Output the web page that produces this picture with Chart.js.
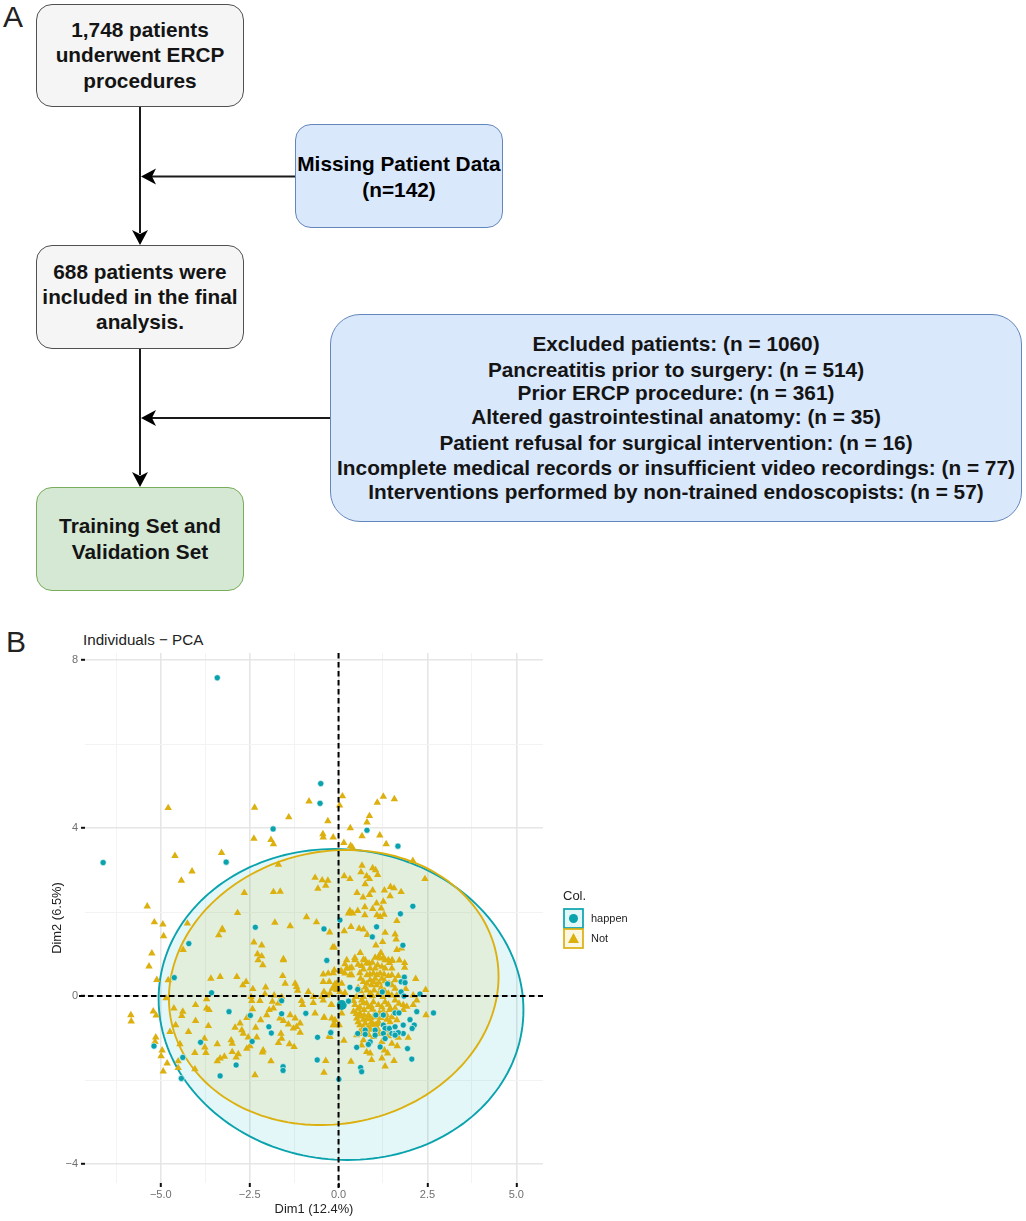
<!DOCTYPE html>
<html>
<head>
<meta charset="utf-8">
<title>ERCP flowchart and PCA</title>
<script src="https://cdn.jsdelivr.net/npm/chart.js@4"></script>
<style>
  html, body { margin:0; padding:0; background:#fff; }
  body { position:relative; width:1026px; height:1221px; overflow:hidden; font-family:"Liberation Sans", Arial, sans-serif; }
  .box { position:absolute; box-sizing:border-box; border-style:solid; border-width:1.7px; font-size:20.8px; }
  .grey { background:#f5f5f5; border-color:#505050; border-radius:16px; }
  .blue { background:#dae8fc; border-color:#6487bb; border-radius:16px; }
  .green { background:#d5e8d4; border-color:#78ad5b; border-radius:16px; }
  .ln { position:absolute; left:0; right:0; text-align:center; font-weight:bold; white-space:nowrap; color:#141414; transform:translateY(-50%); }
  .panel { position:absolute; font-size:30px; color:#222; line-height:1; }
  #flow { position:absolute; left:0; top:0; }
  #wrap { position:absolute; left:0; top:625px; width:640px; height:596px; }
  #plotTitle { position:absolute; left:83px; top:632px; font-size:15.2px; line-height:16px; color:#222; }
</style>
</head>
<body>
<div class="panel" style="left:3px;top:2px">A</div>
<div class="panel" style="left:6px;top:627px">B</div>

<svg id="flow" width="1026" height="620">
  <g stroke="#1a1a1a" stroke-width="2" fill="none">
    <path d="M140 107V233M295 176.5H152M140 349V475M330 418H152"/>
  </g>
  <g fill="#000" stroke="none">
    <path d="M140 245l-8 -15 8 4 8 -4z"/>
    <path d="M140 487l-8 -15 8 4 8 -4z"/>
    <path d="M141 176.5l15 -8 -4 8 4 8z"/>
    <path d="M141 418l15 -8 -4 8 4 8z"/>
  </g>
</svg>

<div class="box grey" style="left:36px;top:4px;width:208px;height:103px">
  <div class="ln" style="top:25px">1,748 patients</div>
  <div class="ln" style="top:50px">underwent ERCP</div>
  <div class="ln" style="top:76px">procedures</div>
</div>
<div class="box blue" style="left:295px;top:124px;width:208px;height:104px">
  <div class="ln" style="top:39px;color:#000">Missing Patient Data</div>
  <div class="ln" style="top:65px;color:#000">(n=142)</div>
</div>
<div class="box grey" style="left:36px;top:245px;width:208px;height:104px">
  <div class="ln" style="top:26px">688 patients were</div>
  <div class="ln" style="top:51px">included in the final</div>
  <div class="ln" style="top:76px">analysis.</div>
</div>
<div class="box green" style="left:36px;top:487px;width:208px;height:104px">
  <div class="ln" style="top:38px">Training Set and</div>
  <div class="ln" style="top:64px">Validation Set</div>
</div>
<div class="box blue" style="left:330px;top:314px;width:692px;height:208px;border-radius:30px">
  <div class="ln" style="top:29px">Excluded patients: (n = 1060)</div>
  <div class="ln" style="top:55px">Pancreatitis prior to surgery: (n = 514)</div>
  <div class="ln" style="top:78px">Prior ERCP procedure: (n = 361)</div>
  <div class="ln" style="top:102px">Altered gastrointestinal anatomy: (n = 35)</div>
  <div class="ln" style="top:128px">Patient refusal for surgical intervention: (n = 16)</div>
  <div class="ln" style="top:153px">Incomplete medical records or insufficient video recordings: (n = 77)</div>
  <div class="ln" style="top:177px">Interventions performed by non-trained endoscopists: (n = 57)</div>
</div>

<div id="plotTitle">Individuals − PCA</div>
<div id="wrap"><canvas id="pca" width="640" height="596"></canvas></div>

<script>
'use strict';

// ── Data ──────────────────────────────────────────────────────────────────────
var xTickValues = [-5, -2.5, 0, 2.5, 5];
var xTickLabels = ['−5.0', '−2.5', '0.0', '2.5', '5.0'];
var xMinorTicks = [-6.25, -3.75, -1.25, 1.25, 3.75];
var yTickValues = [-4, 0, 4, 8];
var yTickLabels = ['−4', '0', '4', '8'];
var yMinorTicks = [-2, 2, 6];
var legendNames = ['happen', 'Not'];

var happenMean = [[0.09, -0.21]];
var notMean = [[-0.10, 0.22]];

// center x, center y, half width, y shift at the widest point, half height
var happenEllipse = [0.07, -0.20, 5.13, -0.13, 3.70];
var notEllipse = [-0.135, 0.205, 4.635, 0.26, 3.265];

var happenPoints = [
  [-3.41,7.58],[-0.50,5.06],[-0.52,4.59],[-1.84,3.98],[-6.62,3.18],[-3.16,3.19],[-2.34,1.64],[-0.41,1.60],
  [0.80,3.95],[1.67,3.57],[2.09,2.14],[1.74,1.96],[0.04,1.81],[1.07,1.65],[0.95,1.41],[1.81,1.21],[-0.33,0.85],
  [1.85,0.45],[1.76,0.34],[1.87,0.32],[1.38,0.29],[0.32,0.21],[0.54,0.16],[1.23,0.10],[1.76,0.10],[2.29,0.05],[1.84,0],
  [0.28,-0.12],[2.67,-0.40],[2.20,-0.37],[2.01,-0.56],[2.13,-0.69],[2.07,-0.77],[1.82,-0.69],[1.59,-0.40],[1.70,-0.40],
  [1.05,-0.45],[1.26,-0.45],[1.26,-0.69],[1.03,-0.81],[0.75,-0.81],[0.75,-0.91],[0.54,-0.89],[1.31,-0.77],[1.43,-0.77],
  [1.59,-0.73],[1.82,-0.89],[1.50,-0.89],[1.59,-0.89],[1.68,-0.87],[1.26,-0.89],[1.31,-1.01],[1.59,-0.93],[1.03,-0.93],
  [0.89,-1.09],[0.84,-1.15],[1.17,-1.21],[0.51,-1.22],[1.94,-1.25],[2.06,-1.50],[0.62,-1.70],[0.65,-1.80],[0.01,-1.98],[-0.21,-0.86],
  [-4.21,1.25],[-4.62,0.44],[-3.57,0.08],[-1.60,-0.11],[-3.08,-0.37],[-2.48,-0.46],[-1.60,-0.42],[-0.92,-0.41],
  [-1.96,-0.73],[-1.89,-0.88],[-2.43,-1.08],[-3.88,-1.10],[-5.19,-1.19],[-4.38,-1.46],[-2.88,-1.64],[-1.56,-1.68],[-1.56,-1.77],
  [-0.60,-1.52],[-3.33,-1.90],[-4.42,-1.96],[-0.59,-0.98],[-0.22,-0.87]
];

var notPoints = [
  // upper left
  [-4.79,4.48],[-2.36,4.49],[-0.83,4.64],[-1.40,4.26],[-0.30,4.17],[-2.38,3.75],[-1.90,3.72],[-1.83,3.62],[-0.44,3.86],[-0.43,3.78],[-0.15,3.78],
  [-3.29,3.41],[-4.60,3.34],[-4.12,2.97],[-4.42,2.75],[-1.69,3.13],[-0.66,2.82],[-0.46,2.76],[-0.30,2.75],[-0.36,2.63],[-0.58,2.56],
  [-2.65,2.46],[-1.83,2.48],[-1.64,2.49],[-5.38,2.14],[-2.84,1.98],[-0.90,1.88],[-0.62,1.76],[-5.18,1.76],[-4.94,1.71],[-4.25,1.73],
  [-1.79,1.75],[-1.36,1.67],[-3.27,1.60],[-3.26,1.57],[-3.37,1.45],[-0.25,1.52],[-2.38,1.28],[-2.16,1.21],[-2.28,1.0],[-2.16,0.95],[-0.16,1.16],[-1.55,0.88],
  // upper right
  [0.11,4.76],[0.03,4.54],[1.09,4.61],[1.26,4.75],[1.57,4.69],[0.87,4.29],[0.80,4.14],[0.33,4.0],[0.66,3.81],[1.16,3.83],[0.15,3.65],[0.34,3.58],[0.39,3.54],
  [1.34,3.62],[2.09,3.22],[2.43,2.79],[0.66,3.11],[0.63,2.95],[0.96,3.05],[1.04,3.0],[1.10,2.89],[0.16,2.86],[0.32,2.79],[0.79,2.86],[0.87,2.79],[0.75,2.67],
  [1.29,2.52],[1.46,2.60],[1.56,2.57],[1.76,2.48],[0.52,2.46],[0.96,2.52],[0.87,2.41],[0.69,2.35],[1.45,2.38],[1.26,2.25],[1.07,2.21],[0.96,2.08],[0.74,2.12],
  [1.20,2.09],[0.32,2.03],[0.28,1.97],[0.40,1.97],[0.54,2.03],[0.74,1.93],[1.08,1.93],[1.17,1.89],[1.28,1.94],[1.64,1.79],[0.35,1.65],[0.16,1.55],[0.58,1.61],
  [0.70,1.59],[1.31,1.51],[1.59,1.47],[1.62,1.35],[0.81,1.46],[1.24,1.29],[1.05,1.21],[1.64,1.10],[1.77,1.14],[-0.12,1.16],[0.61,1.03],[1.19,1.03],[1.13,0.94],
  [1.71,0.85],[1.86,0.79],[1.86,0.68],[0.46,0.91],[0.23,0.86],[0.18,0.76],[0.75,0.86],[0.86,0.78],[1.31,0.86],[1.43,0.79],[1.51,0.86],[0.32,0.66],[2.17,0.41],
  [1.68,0.48],[2.45,0.15],[-0.15,0.55],[0.07,0.60],[0.18,0.54],[0.37,0.50],
  // dense cluster above the line
  [0.46,0.86],[0.70,0.87],[0.79,0.78],[1.03,0.92],[1.17,0.90],[1.26,0.92],[1.40,0.86],[1.50,0.84],[0.23,0.66],[0.37,0.68],[0.70,0.64],[0.89,0.66],[1.03,0.66],
  [1.31,0.66],[1.50,0.66],[0.98,0.54],[1.17,0.54],[-0.12,0.62],[0.09,0.58],[-0.29,0.54],[-0.43,0.52],[0.32,0.50],[-0.43,0.34],[-0.26,0.34],[0.70,0.34],[0.89,0.38],
  [1.03,0.42],[1.22,0.42],[1.50,0.50],[1.59,0.38],[0.09,0.30],[0.93,0.26],[1.07,0.26],[0.75,0.21],[1.50,0.26],[1.59,0.18],[1.89,0.17],[-0.41,0.10],[-0.33,0.02],
  [0.04,0.10],[0.18,0.08],[0.89,0.06],[1.12,0.05],[1.40,0.06],[1.64,0.02],[2.10,0.02],[-0.05,0.30],[-0.15,0.18],[-0.05,0.15],
  [0.55,0.75],[0.65,0.72],[0.95,0.80],[1.10,0.74],[1.22,0.70],[0.60,0.55],[0.80,0.50],[0.88,0.52],[1.08,0.50],[1.28,0.52],[1.40,0.48],[0.62,0.42],[0.80,0.30],
  [0.98,0.34],[1.14,0.32],[1.30,0.36],[1.42,0.30],[0.55,0.20],[0.62,0.12],[0.80,0.14],[1.00,0.14],[1.20,0.20],[1.30,0.12],[0.70,-0.02],[0.95,0.00],[1.25,-0.02],[1.50,0.02],[0.50,-0.02],
  // dense cluster below the line
  [0.42,-0.11],[0.65,-0.10],[0.98,-0.14],[1.12,-0.21],[1.31,-0.14],[1.59,-0.10],[1.82,-0.21],[2.20,-0.10],[2.10,-0.21],[0.60,-0.26],[0.84,-0.26],[1.45,-0.29],
  [0.46,-0.21],[0.79,-0.17],[1.92,-0.25],[1.82,-0.33],[1.59,-0.29],[1.45,-0.33],[0.42,-0.37],[0.60,-0.41],[0.84,-0.45],[1.03,-0.41],[1.26,-0.37],[0.51,-0.53],
  [0.70,-0.56],[0.93,-0.61],[1.12,-0.61],[1.36,-0.56],[1.64,-0.57],[2.46,-0.45],[-0.41,-0.51],[-0.21,-0.21],[-0.10,-0.57],[0.09,-0.41],[-0.10,-0.69],[0.60,-0.69],
  [0.84,-0.73],[1.03,-0.69],[1.36,-0.81],[1.96,-0.99],[1.68,-0.99],[-0.26,-0.95],[0.15,-1.06],[0.51,-0.93],[0.70,-1.05],[0.98,-0.97],[1.22,-1.09],[1.50,-1.13],
  [1.65,-1.19],[0.65,-1.17],[0.79,-1.33],[0.89,-1.36],[1.29,-1.29],[1.38,-1.36],[0.93,-1.52],[1.22,-1.48],[1.56,-1.54],[0.35,-1.56],[-0.36,-1.54],[1.31,-1.67],[-0.41,-1.82],
  [0.55,-0.30],[0.72,-0.33],[0.95,-0.32],[1.15,-0.40],[0.62,-0.48],[0.80,-0.55],[1.00,-0.50],[1.20,-0.52],[0.70,-0.75],[0.90,-0.80],[1.10,-0.78],[0.60,-0.85],
  [0.70,-0.16],[0.92,-0.24],[1.22,-0.26],[1.40,-0.20],[1.70,-0.18],[0.50,-0.42],[0.72,-0.46],[0.90,-0.52],[1.10,-0.48],[1.35,-0.45],[1.50,-0.50],[0.55,-0.62],
  [0.75,-0.65],[0.95,-0.68],[1.15,-0.66],[1.45,-0.62],[0.65,-0.90],[0.85,-0.92],[1.15,-0.90],[1.40,-0.95],
  // left half
  [-4.92,1.43],[-5.25,1.02],[-5.33,0.71],[-5.11,0.39],[-4.79,0.38],[-4.37,1.10],[-2.26,0.86],[-2.13,0.74],[-1.55,0.86],[-3.59,0.42],[-3.33,0.46],[-2.86,0.46],
  [-2.60,0.34],[-2.69,0.26],[-2.41,0.17],[-2.05,0.21],[-1.57,0.48],[-1.50,0.30],[-2.07,0.05],[-1.81,0.02],[-1.60,-0.02],[-1.15,0.13],[-0.85,0.10],[-1.22,0.30],[-1.18,0.22],
  [-0.71,-0.02],[-0.47,-0.02],[-0.24,0.06],[-4.85,-0.05],[-3.71,-0.07],[-2.46,-0.02],[-2.44,-0.11],[-2.21,-0.11],[-1.86,-0.13],[-1.04,-0.11],[-1.01,-0.21],[-0.71,-0.16],
  [-0.43,-0.10],[-0.19,-0.21],[-5.21,-0.36],[-5.13,-0.46],[-4.63,-0.29],[-4.02,-0.21],[-3.71,-0.29],[-3.64,-0.33],[-4.38,-0.37],[-4.41,-0.47],[-5.84,-0.45],[-5.83,-0.60],
  [-2.42,-0.31],[-4.02,-0.59],[-3.66,-0.71],[-4.22,-0.85],[-4.58,-0.69],[-4.74,-0.85],[-2.58,-0.52],[-2.91,-0.75],[-2.77,-0.65],[-2.72,-0.81],[-2.33,-0.75],[-2.68,-0.89],
  [-2.54,-0.98],[-2.30,-0.98],[-2.19,-0.57],[-2.02,-0.45],[-1.95,-0.33],[-1.83,-0.29],[-1.69,-0.17],[-1.36,-0.45],[-1.65,-0.53],[-1.55,-0.59],[-1.41,-0.67],[-1.22,-0.53],
  [-1.08,-0.65],[-1.18,-0.73],[-1.27,-0.77],[-1.08,-0.87],[-0.66,-0.41],[-0.40,-0.51],[-0.19,-0.53],[-0.15,-0.69],[0.02,-0.69],[-0.24,-0.97],[-1.62,-0.89],[-1.60,-1.01],
  [-1.69,-1.11],[-1.38,-1.14],[-1.25,-1.21],[-3.77,-1.01],[-3.41,-1.14],[-3.02,-1.05],[-2.99,-1.13],[-4.46,-1.14],[-3.76,-1.22],[-3.73,-1.35],[-4.04,-1.35],[-2.99,-1.33],
  [-2.82,-1.38],[-2.88,-1.46],[-3.21,-1.44],[-3.33,-1.48],[-3.41,-1.55],[-2.58,-1.25],[-2.49,-1.19],[-2.12,-1.29],[-2.14,-1.34],[-1.90,-1.55],[-2.35,-1.88],[-4.04,-1.74],
  [-5.14,-0.98],[-5.16,-1.09],[-4.96,-1.29],[-4.99,-1.43],[-4.82,-1.60],[-4.93,-1.79],[-4.51,-1.55],[-4.51,-1.71]
];

var tealColor = '#0aa3ad';
var goldColor = '#dcb00f';

function toXY(list) {
  return list.map(function(p) { return { x:p[0], y:p[1] }; });
}

function axisSide(width, height) {
  return function(scale) {
    if (width) scale.width = width;
    if (height) scale.height = height;
  };
}

function gridColor(ctx) {
  return ctx.tick && ctx.tick.major ? '#e6e6e6' : '#f3f3f3';
}
function gridWidth(ctx) {
  return ctx.tick && ctx.tick.major ? 1.6 : 1;
}
function tickColor(ctx) {
  return ctx.tick && ctx.tick.major ? '#111' : 'rgba(0,0,0,0)';
}
function buildTicks(major, minor) {
  return function(scale) {
    scale.ticks = minor.map(function(v) { return { value:v, major:false }; })
      .concat(major.map(function(v) { return { value:v, major:true }; }))
      .sort(function(a, b) { return a.value - b.value; });
  };
}
function tickLabel(major, labels) {
  return function(value) {
    var i = major.indexOf(value);
    return i < 0 ? '' : labels[i];
  };
}

// Concentration ellipses, drawn under the points
function ellipsePath(ctx, sx, sy, e) {
  ctx.beginPath();
  for (var i = 0; i <= 180; i++) {
    var t = i / 180 * Math.PI * 2;
    var px = sx.getPixelForValue(e[0] + e[2] * Math.cos(t));
    var py = sy.getPixelForValue(e[1] + e[3] * Math.cos(t) + e[4] * Math.sin(t));
    if (i === 0) ctx.moveTo(px, py); else ctx.lineTo(px, py);
  }
  ctx.closePath();
}

var ellipsePlugin = {
  id: 'ellipses',
  beforeDatasetsDraw: function(chart) {
    var ctx = chart.ctx, sx = chart.scales.x, sy = chart.scales.y;
    ctx.save();
    ellipsePath(ctx, sx, sy, happenEllipse);
    ctx.fillStyle = 'rgba(10,175,190,0.115)';
    ctx.fill();
    ellipsePath(ctx, sx, sy, notEllipse);
    ctx.fillStyle = 'rgba(231,184,0,0.11)';
    ctx.fill();
    ctx.lineWidth = 1.9;
    ellipsePath(ctx, sx, sy, happenEllipse);
    ctx.strokeStyle = tealColor;
    ctx.stroke();
    ellipsePath(ctx, sx, sy, notEllipse);
    ctx.strokeStyle = goldColor;
    ctx.stroke();
    ctx.restore();
  }
};

// Dashed zero lines over the points
var zeroLinePlugin = {
  id: 'zeroLines',
  afterDatasetsDraw: function(chart) {
    var ctx = chart.ctx, a = chart.chartArea;
    var x0 = chart.scales.x.getPixelForValue(0), y0 = chart.scales.y.getPixelForValue(0);
    ctx.save();
    ctx.strokeStyle = '#000';
    ctx.lineWidth = 2;
    ctx.setLineDash([5.5, 3.5]);
    ctx.beginPath();
    ctx.moveTo(a.left - 6, y0); ctx.lineTo(a.right, y0);
    ctx.moveTo(x0, a.top); ctx.lineTo(x0, a.bottom + 5);
    ctx.stroke();
    ctx.restore();
  }
};

// ggplot style legend at the right of the panel
var legendPlugin = {
  id: 'colLegend',
  afterDraw: function(chart) {
    var ctx = chart.ctx, lx = 564, ly = 284;
    ctx.save();
    ctx.fillStyle = '#222';
    ctx.font = '13px "Liberation Sans"';
    ctx.textBaseline = 'middle';
    ctx.fillText('Col.', lx - 1, ly - 13);
    [[tealColor, 'rgba(10,175,190,0.115)'], [goldColor, 'rgba(231,184,0,0.11)']].forEach(function(c, i) {
      var y = ly + i * 20;
      ctx.fillStyle = c[1];
      ctx.fillRect(lx, y, 19, 19);
      ctx.strokeStyle = c[0];
      ctx.lineWidth = 1.7;
      ctx.strokeRect(lx, y, 19, 19);
      ctx.fillStyle = c[0];
      ctx.beginPath();
      if (i === 0) {
        ctx.arc(lx + 9.5, y + 9.5, 4.5, 0, Math.PI * 2);
      } else {
        ctx.moveTo(lx + 9.5, y + 4);
        ctx.lineTo(lx + 15, y + 14);
        ctx.lineTo(lx + 4, y + 14);
        ctx.closePath();
      }
      ctx.fill();
      ctx.fillStyle = '#222';
      ctx.font = '11px "Liberation Sans"';
      ctx.fillText(legendNames[i], lx + 27, y + 10);
    });
    ctx.restore();
  }
};

var tickFont = { family:'"Liberation Sans"', size:11 };
var titleFont = { family:'"Liberation Sans"', size:12.9 };

new Chart(document.getElementById('pca'), {
  type: 'scatter',
  data: {
    datasets: [
      { label:'happen', data:toXY(happenPoints), pointStyle:'circle', pointRadius:3.1, backgroundColor:tealColor, borderColor:'rgba(255,255,255,0.75)', borderWidth:0.8 },
      { label:'happen mean', data:toXY(happenMean), pointStyle:'circle', pointRadius:5, backgroundColor:tealColor, borderWidth:0 },
      { label:'Not mean', data:toXY(notMean), pointStyle:'triangle', pointRadius:7, backgroundColor:goldColor, borderWidth:0 },
      { label:'Not', data:toXY(notPoints), pointStyle:'triangle', pointRadius:4.3, backgroundColor:goldColor, borderWidth:0 }
    ]
  },
  options: {
    responsive: false,
    animation: false,
    events: [],
    layout: { padding: { left:0, top:28, right:97, bottom:0 } },
    plugins: { legend:{ display:false }, tooltip:{ enabled:false }, title:{ display:false } },
    scales: {
      x: {
        type: 'linear', min:-7.13, max:5.75,
        afterBuildTicks: buildTicks(xTickValues, xMinorTicks),
        afterFit: axisSide(0, 38),
        border: { display:false },
        grid: { color:gridColor, lineWidth:gridWidth, tickColor:tickColor, tickWidth:2, tickLength:4 },
        ticks: { autoSkip:false, maxRotation:0, color:'#707070', font:tickFont, padding:1, callback:tickLabel(xTickValues, xTickLabels) },
        title: { display:true, text:'Dim1 (12.4%)', color:'#222', font:titleFont, padding:{ top:0, bottom:4 } }
      },
      y: {
        type: 'linear', min:-4.45, max:8.17,
        afterBuildTicks: buildTicks(yTickValues, yMinorTicks),
        afterFit: axisSide(85, 0),
        border: { display:false },
        grid: { color:gridColor, lineWidth:gridWidth, tickColor:tickColor, tickWidth:2, tickLength:4 },
        ticks: { autoSkip:false, color:'#707070', font:tickFont, padding:3, callback:tickLabel(yTickValues, yTickLabels) },
        title: { display:true, text:'Dim2 (6.5%)', color:'#222', font:titleFont, padding:{ top:50, bottom:0 } }
      }
    }
  },
  plugins: [ellipsePlugin, zeroLinePlugin, legendPlugin]
});
</script>
</body>
</html>
